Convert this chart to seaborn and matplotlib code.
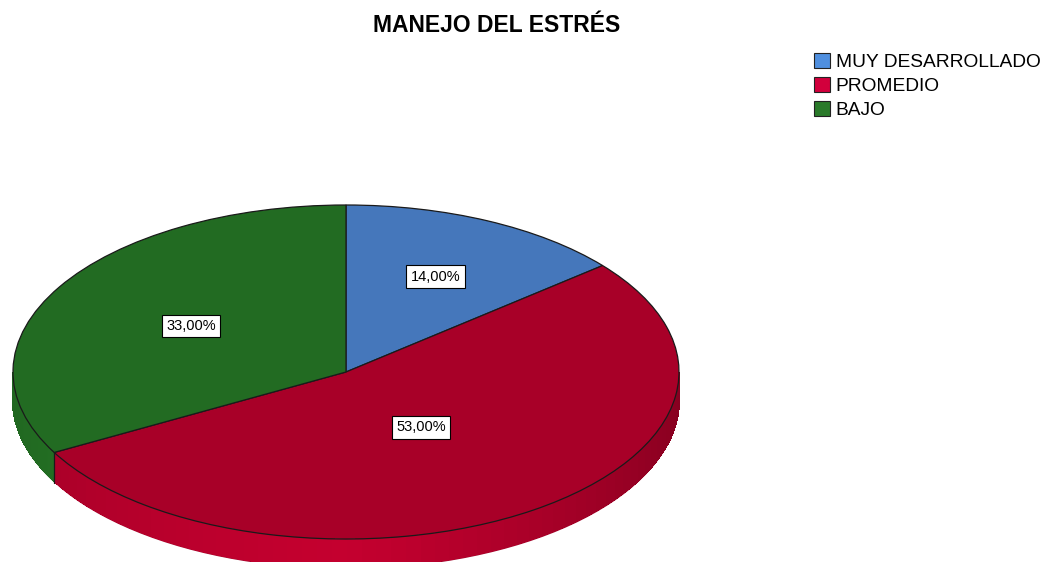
import numpy as np
import matplotlib
matplotlib.use("Agg")
import matplotlib.pyplot as plt
import seaborn as sns
from matplotlib.patches import Patch, Polygon
from matplotlib.colors import to_rgb

# data
categories = ["MUY DESARROLLADO", "PROMEDIO", "BAJO"]
percentages = [14.0, 53.0, 33.0]
top_colors = ["#4577bb", "#a80028", "#226b22"]
legend_colors = ["#4f8fdf", "#d2003c", "#2a7a2a"]
title = "MANEJO DEL ESTRÉS"

sns.set_theme(style="white")
plt.rcParams["font.family"] = ["Liberation Sans", "DejaVu Sans"]
plt.rcParams["text.color"] = "black"

fig = plt.figure(figsize=(10.44, 5.62), dpi=100)
ax = fig.add_axes([0, 0, 700 / 1044, 372 / 562])

depth = 0.18        # thickness of the disc, in y units
label_r = [0.63, 0.40, 0.54]

# pie on top surface
wedges, _ = ax.pie(percentages, colors=top_colors, startangle=90, counterclock=False,
                   wedgeprops=dict(edgecolor="#1a1a1a", linewidth=0.9))
for w in wedges:
    w.set_zorder(3)

# side of the disc (front half only)
start = 90.0
for val, col in zip(percentages, top_colors):
    sweep = val / 100 * 360
    a0, a1 = start - sweep, start
    start = a0
    # front half is where sin < 0 -> angles in (180, 360) modulo 360
    for k in (-1, 0, 1):
        lo = max(a0, 180 + 360 * k)
        hi = min(a1, 360 + 360 * k)
        if hi <= lo:
            continue
        ts = np.linspace(lo, hi, 60)
        base = np.array(to_rgb(col))
        # whole side in base colour first, antialiased outline
        outline = [(np.cos(np.deg2rad(t)), np.sin(np.deg2rad(t))) for t in ts] + \
                  [(np.cos(np.deg2rad(t)), np.sin(np.deg2rad(t)) - depth) for t in ts[::-1]]
        ax.add_patch(Polygon(outline, closed=True, facecolor=base * 0.95, edgecolor="none", zorder=1))
        for t0, t1 in zip(ts[:-1], ts[1:]):
            tm = np.deg2rad((t0 + t1) / 2)
            shade = 1.05 + 0.12 * (-np.sin(tm)) - 0.25 * max(np.cos(tm), 0) - 0.1 * max(-np.cos(tm), 0)
            c = np.clip(base * shade, 0, 1)
            r0, r1 = np.deg2rad(t0), np.deg2rad(t1)
            pts = [(np.cos(r0), np.sin(r0) - 0.004), (np.cos(r1), np.sin(r1) - 0.004),
                   (np.cos(r1), np.sin(r1) - depth + 0.01), (np.cos(r0), np.sin(r0) - depth + 0.01)]
            ax.add_patch(Polygon(pts, closed=True, facecolor=c, edgecolor=c, lw=0.8,
                                 antialiased=False, zorder=1.5))

# boundary line on the side between slices
start = 90.0
for val in percentages:
    start -= val / 100 * 360
    r = np.deg2rad(start)
    if np.sin(r) < 0:
        ax.plot([np.cos(r), np.cos(r)], [np.sin(r), np.sin(r) - depth], color="#1a1a1a", lw=0.9, zorder=2)

# value labels
start = 90.0
for val, rr in zip(percentages, label_r):
    sweep = val / 100 * 360
    mid = np.deg2rad(start - sweep / 2)
    start -= sweep
    ax.text(rr * np.cos(mid), rr * np.sin(mid), f"{val:.2f}%".replace(".", ","),
            ha="center", va="center", fontsize=10.5, color="black", zorder=5,
            bbox=dict(boxstyle="square,pad=0.3", facecolor="white", edgecolor="black", linewidth=0.8))

ax.set_aspect("auto")
ax.set_xlim(-346 / 333, (700 - 346) / 333)
ax.set_ylim(-(562 - 372) / 167, (372 - 190) / 167)
ax.axis("off")

fig.suptitle(title, x=497 / 1044, y=1 - 14 / 562, fontsize=16.5, fontweight="bold",
             va="top", color="black")

handles = [Patch(facecolor=c, edgecolor="#222222", linewidth=0.8) for c in legend_colors]
fig.legend(handles, categories, loc="upper left", bbox_to_anchor=(806 / 1044, 1 - 45 / 562),
           frameon=False, fontsize=13.8, handlelength=0.85, handleheight=0.85, handletextpad=0.3,
           labelspacing=0.3, borderaxespad=0, labelcolor="black")

fig.savefig("out.png", dpi=100, facecolor="white")
